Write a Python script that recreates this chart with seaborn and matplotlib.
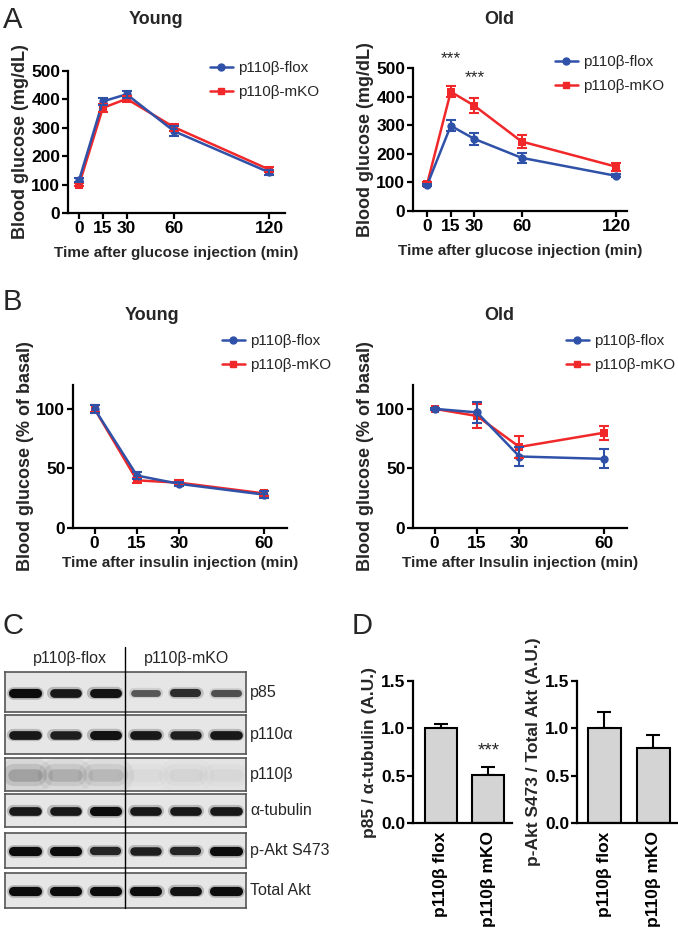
import matplotlib
matplotlib.use('Agg')
import matplotlib.pyplot as plt
from matplotlib.lines import Line2D
import pandas as pd
import seaborn as sns

W, H = 678, 931

# --- A: glucose tolerance test ---
gtt_time = [0, 15, 30, 60, 120]
gtt_young_flox = [116, 393, 418, 288, 143]
gtt_young_flox_sem = [6, 12, 12, 18, 10]
gtt_young_mko = [100, 370, 402, 302, 153]
gtt_young_mko_sem = [6, 14, 10, 12, 8]
gtt_old_flox = [91, 298, 252, 186, 123]
gtt_old_flox_sem = [5, 20, 22, 18, 5]
gtt_old_mko = [95, 417, 368, 243, 155]
gtt_old_mko_sem = [5, 20, 27, 22, 14]

# --- B: insulin tolerance test ---
itt_time = [0, 15, 30, 60]
itt_young_flox = [100, 44, 37, 28]
itt_young_flox_sem = [3.5, 3, 1.5, 3]
itt_young_mko = [100, 40, 38, 29]
itt_young_mko_sem = [3, 2, 2, 2]
itt_old_flox = [100, 97, 60, 58]
itt_old_flox_sem = [1, 9, 8, 8]
itt_old_mko = [100, 94, 68, 80]
itt_old_mko_sem = [1, 10, 9, 6]

# --- C: western blot band intensities (3 flox lanes, 3 mKO lanes) ---
blot_proteins = ['p85', 'p110α', 'p110β', 'α-tubulin', 'p-Akt S473', 'Total Akt']
blot_p85 = [1.0, 0.9, 0.95, 0.45, 0.75, 0.5]
blot_p110a = [0.9, 0.85, 0.95, 0.9, 0.85, 0.9]
blot_p110b = [0.35, 0.28, 0.22, 0.05, 0.08, 0.06]
blot_tubulin = [0.9, 0.9, 1.0, 0.9, 0.9, 0.9]
blot_pakt = [1.0, 1.0, 0.8, 0.85, 0.8, 1.0]
blot_total_akt = [1.0, 1.0, 1.0, 1.0, 0.95, 1.0]

# --- D: quantification ---
bar_groups = ['p110β flox', 'p110β mKO']
p85_ratio = [1.0, 0.505]
p85_ratio_sem = [0.05, 0.085]
pakt_ratio = [1.0, 0.79]
pakt_ratio_sem = [0.17, 0.14]

BLUE = '#2f51a8'
RED = '#f0282a'
FLOX, MKO = 'p110β-flox', 'p110β-mKO'

sns.set_style('ticks')
plt.rcParams['font.family'] = ['Liberation Sans', 'DejaVu Sans']
plt.rcParams['axes.linewidth'] = 1.6
plt.rcParams['xtick.major.width'] = 1.6
plt.rcParams['ytick.major.width'] = 1.6
plt.rcParams['xtick.major.size'] = 4
plt.rcParams['ytick.major.size'] = 4
plt.rcParams['xtick.major.pad'] = 2
plt.rcParams['ytick.major.pad'] = 1.5

fig = plt.figure(figsize=(W / 100, H / 100), dpi=100)


def px_axes(left, top, right, bottom):
    return fig.add_axes([left / W, 1 - bottom / H, (right - left) / W, (bottom - top) / H])


def style_axes(ax):
    sns.despine(ax=ax)
    ax.spines['left'].set_color('black')
    ax.spines['bottom'].set_color('black')
    ax.tick_params(colors='black', labelsize=12.5)
    for lab in ax.get_xticklabels() + ax.get_yticklabels():
        lab.set_fontweight('bold')


def line_panel(ax, time, flox, flox_sem, mko, mko_sem):
    n = len(time)
    df = pd.DataFrame({'time': time * 2, 'value': mko + flox,
                       'genotype': [MKO] * n + [FLOX] * n})
    sns.lineplot(data=df, x='time', y='value', hue='genotype', style='genotype',
                 hue_order=[MKO, FLOX], palette={FLOX: BLUE, MKO: RED},
                 markers={FLOX: 'o', MKO: 's'}, dashes=False, lw=1.8,
                 markersize=6, markeredgewidth=0, legend=False, ax=ax, clip_on=False)
    ax.errorbar(time, mko, yerr=mko_sem, fmt='none', ecolor=RED, elinewidth=1.5,
                capsize=3.5, capthick=1.5, clip_on=False)
    ax.errorbar(time, flox, yerr=flox_sem, fmt='none', ecolor=BLUE, elinewidth=1.5,
                capsize=3.5, capthick=1.5, clip_on=False)
    ax.set_xticks(time)
    style_axes(ax)


def add_legend(ax, x, y):
    handles = [Line2D([], [], color=BLUE, marker='o', ms=5, lw=1.8),
               Line2D([], [], color=RED, marker='s', ms=5, lw=1.8)]
    ax.legend(handles, [FLOX, MKO], loc='upper left', bbox_to_anchor=(x / W, 1 - y / H),
              bbox_transform=fig.transFigure, frameon=False, fontsize=11,
              handlelength=1.5, handletextpad=0.35, labelspacing=0.65,
              borderpad=0, borderaxespad=0)


# ---------- A ----------
ax = px_axes(68, 71, 285, 213)
line_panel(ax, gtt_time, gtt_young_flox, gtt_young_flox_sem, gtt_young_mko, gtt_young_mko_sem)
ax.set_xlim(-7, 130)
ax.set_ylim(0, 500)
ax.set_yticks([0, 100, 200, 300, 400, 500])
ax.set_xlabel('Time after glucose injection (min)', fontsize=11, fontweight='bold', labelpad=7)
ax.set_ylabel('Blood glucose (mg/dL)', fontsize=13, fontweight='bold', labelpad=2)
add_legend(ax, 210, 61)

ax = px_axes(413, 68, 627, 211)
line_panel(ax, gtt_time, gtt_old_flox, gtt_old_flox_sem, gtt_old_mko, gtt_old_mko_sem)
ax.set_xlim(-9, 127)
ax.set_ylim(0, 500)
ax.set_yticks([0, 100, 200, 300, 400, 500])
ax.set_xlabel('Time after glucose injection (min)', fontsize=11, fontweight='bold', labelpad=7)
ax.set_ylabel('Blood glucose (mg/dL)', fontsize=13, fontweight='bold', labelpad=2)
ax.text(15, 505, '***', ha='center', va='bottom', fontsize=12.5)
ax.text(30, 440, '***', ha='center', va='bottom', fontsize=12.5)
add_legend(ax, 555, 55)

# ---------- B ----------
ax = px_axes(73, 385, 287, 528)
line_panel(ax, itt_time, itt_young_flox, itt_young_flox_sem, itt_young_mko, itt_young_mko_sem)
ax.set_xlim(-7.6, 68)
ax.set_ylim(0, 120)
ax.set_yticks([0, 50, 100])
ax.set_xlabel('Time after insulin injection (min)', fontsize=11, fontweight='bold', labelpad=3)
ax.set_ylabel('Blood glucose (% of basal)', fontsize=13, fontweight='bold', labelpad=2)
add_legend(ax, 222, 334)

ax = px_axes(413, 385, 627, 528)
line_panel(ax, itt_time, itt_old_flox, itt_old_flox_sem, itt_old_mko, itt_old_mko_sem)
ax.set_xlim(-7.6, 68)
ax.set_ylim(0, 120)
ax.set_yticks([0, 50, 100])
ax.set_xlabel('Time after Insulin injection (min)', fontsize=11, fontweight='bold', labelpad=3)
ax.set_ylabel('Blood glucose (% of basal)', fontsize=13, fontweight='bold', labelpad=2)
add_legend(ax, 566, 334)

# titles and panel letters
for x, y, t in [(156, 20, 'Young'), (499, 20, 'Old'), (152, 315, 'Young'), (499, 315, 'Old')]:
    fig.text(x / W, 1 - y / H, t, ha='center', va='center', fontsize=13, fontweight='bold')
for x, y, t in [(3, 20, 'A'), (3, 302, 'B'), (3, 626, 'C'), (352, 626, 'D')]:
    fig.text(x / W, 1 - y / H, t, ha='left', va='center', fontsize=21)

# ---------- C ----------
blot_rows = [blot_p85, blot_p110a, blot_p110b, blot_tubulin, blot_pakt, blot_total_akt]
row_boxes = [(672, 712), (715, 754), (758, 791), (794, 827), (833, 868), (873, 908)]
for name, vals, (top, bottom) in zip(blot_proteins, blot_rows, row_boxes):
    bax = px_axes(5, top, 246, bottom)
    bax.set_facecolor('#e6e6e6')
    bax.set_xlim(0, 6)
    bax.set_ylim(0, 1)
    bax.set_xticks([])
    bax.set_yticks([])
    for s in bax.spines.values():
        s.set_color('#555555')
        s.set_linewidth(1.2)
    diffuse = name == 'p110β'
    for lane, v in enumerate(vals):
        xc = lane + 0.5
        if diffuse:
            for lw, a in [(24, 0.18), (16, 0.3), (9, 0.45)]:
                bax.plot([xc - 0.28, xc + 0.28], [0.5, 0.5], color='black', lw=lw,
                         alpha=a * v, solid_capstyle='round')
        else:
            core = 3.6 + 3.0 * v
            bax.plot([xc - 0.3, xc + 0.3], [0.48, 0.48], color='black', lw=core + 2.5,
                     alpha=0.22 * v, solid_capstyle='round')
            bax.plot([xc - 0.29, xc + 0.29], [0.48, 0.48], color='#0c0c0c', lw=core,
                     alpha=0.3 + 0.7 * v, solid_capstyle='round')
    fig.text(250 / W, 1 - (top + bottom) / 2 / H, name, ha='left', va='center', fontsize=11.5)

fig.text(70 / W, 1 - 658 / H, FLOX, ha='center', va='center', fontsize=11.5)
fig.text(187 / W, 1 - 658 / H, MKO, ha='center', va='center', fontsize=11.5)
fig.add_artist(Line2D([125 / W, 125 / W], [1 - 647 / H, 1 - 908 / H], color='black',
                      lw=1.0, transform=fig.transFigure))


# ---------- D ----------
def bar_panel(ax, vals, sems, ylabel):
    df = pd.DataFrame({'group': bar_groups, 'value': vals})
    sns.barplot(data=df, x='group', y='value', color='#d4d4d4', edgecolor='black',
                linewidth=1.5, width=0.67, saturation=1, ax=ax)
    ax.errorbar([0, 1], vals, yerr=[[0, 0], sems], fmt='none', ecolor='black',
                elinewidth=1.5, capsize=5, capthick=1.5, zorder=0)
    ax.set_ylim(0, 1.5)
    ax.set_yticks([0, 0.5, 1.0, 1.5])
    ax.set_yticklabels(['0.0', '0.5', '1.0', '1.5'])
    ax.set_xlabel('')
    ax.set_ylabel(ylabel, fontsize=12.5, fontweight='bold', labelpad=3)
    ax.tick_params(axis='x', length=0, pad=6)
    style_axes(ax)
    for lab in ax.get_xticklabels():
        lab.set_rotation(90)
        lab.set_fontsize(12.5)


ax = px_axes(413, 681, 512, 823)
bar_panel(ax, p85_ratio, p85_ratio_sem, 'p85 / α-tubulin (A.U.)')
ax.set_xlim(-0.59, 1.5)
ax.text(1, 0.67, '***', ha='center', va='bottom', fontsize=13.5)

ax = px_axes(577, 681, 678, 823)
bar_panel(ax, pakt_ratio, pakt_ratio_sem, 'p-Akt S473 / Total Akt (A.U.)')
ax.set_xlim(-0.55, 1.5)

fig.savefig('out.png', dpi=100, facecolor='white')
